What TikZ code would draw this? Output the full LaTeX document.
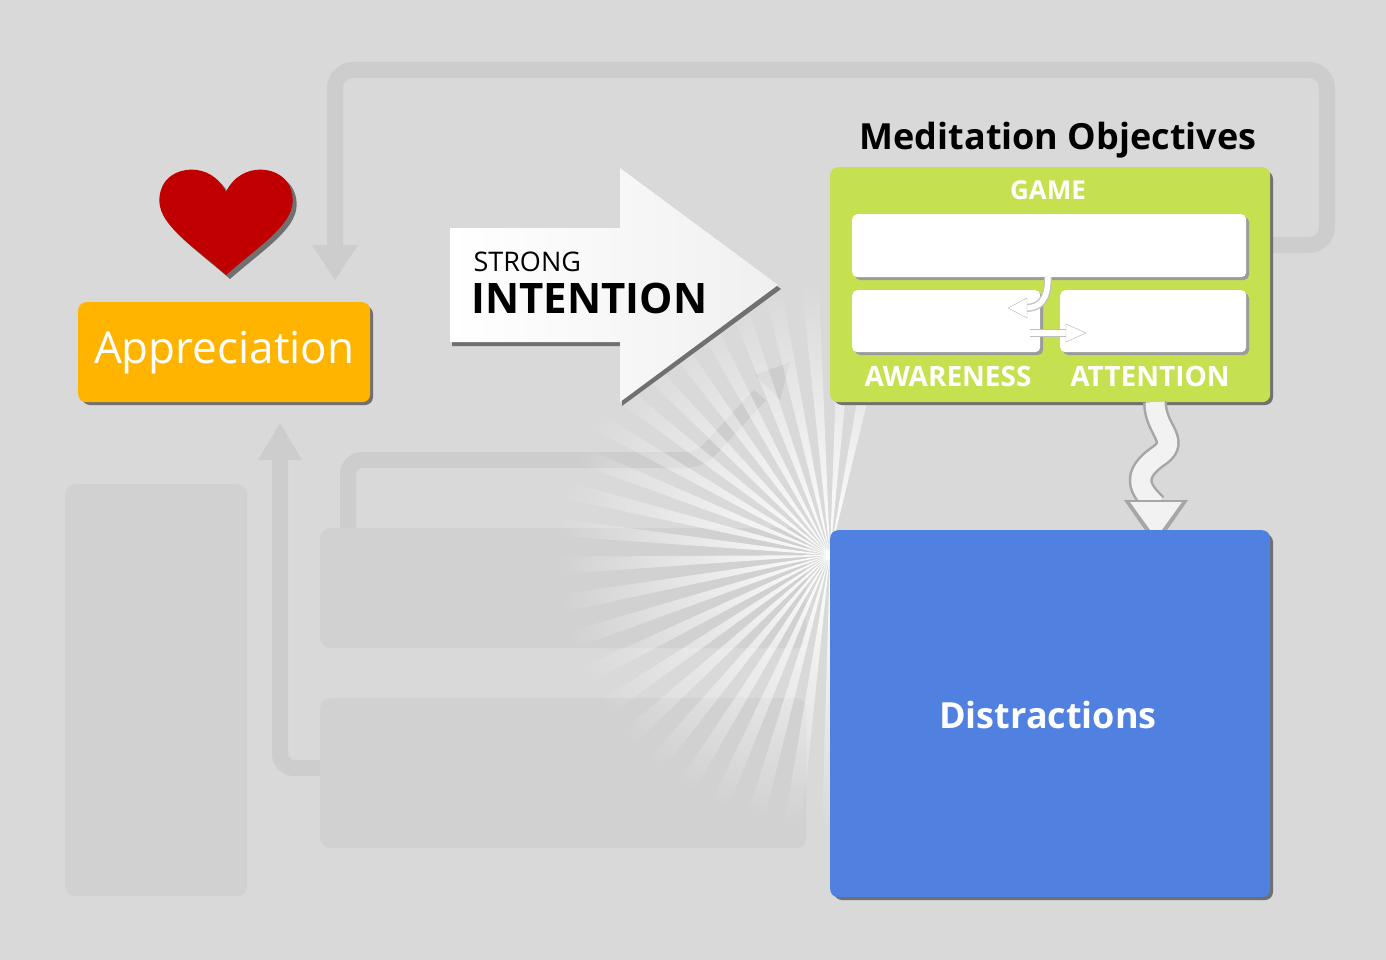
\documentclass[tikz,border=0pt]{standalone}
\usepackage{fontspec}
\setmainfont{Open Sans}
\usetikzlibrary{fadings,decorations.pathmorphing}
\definecolor{bg}{HTML}{D9D9D9}
\definecolor{ghost}{HTML}{D1D1D1}
\definecolor{ghostline}{HTML}{CDCDCD}
\definecolor{orng}{HTML}{FFB400}
\definecolor{grn}{HTML}{C5E150}
\definecolor{blu}{HTML}{5080E0}
\definecolor{hrt}{HTML}{C00000}
\definecolor{shd}{HTML}{707070}
\tikzfading[name=rayfade, inner color=transparent!0, outer color=transparent!100]
\begin{document}
\begin{tikzpicture}[x=1pt,y=-1pt,
  ghostbox/.style={fill=ghost,rounded corners=10pt},
  ghostarrow/.style={draw=ghostline,line width=16pt,rounded corners=18pt},
  whitebox/.style={fill=white,rounded corners=5pt},
  lbl/.style={text=white,font=\fontsize{28}{30}\selectfont\bfseries}]
\fill[bg] (0,0) rectangle (1386,960);
\useasboundingbox (0,0) rectangle (1386,960);
% ghost shapes
\node[ghostbox,minimum width=182pt,minimum height=412pt,anchor=north west] (gl) at (65,484) {};
\draw[ghostarrow] (335,250) |- (1327,70) |- (1270,245);
\fill[ghostline] (312,245) -- (358,245) -- (335,280) -- cycle;
\draw[ghostarrow,rounded corners=14pt] (348,528) |- (700,460) -- (760,395);
\fill[ghostline] (755,375) -- (790,362) -- (780,400) -- cycle;
\node[ghostbox,minimum width=486pt,minimum height=120pt,anchor=north west] (gm) at (320,528) {};
\node[ghostbox,minimum width=486pt,minimum height=150pt,anchor=north west] (gb) at (320,698) {};
\draw[ghostarrow,rounded corners=14pt] (320,768) -| (280,455);
\fill[ghostline] (258,460) -- (302,460) -- (280,423) -- cycle;
% rays
\begin{scope}
\path[fill=white,path fading=rayfade,fit fading=false,fading transform={shift={(830,555)},scale=11}]
 \foreach \a in {80,88,...,280} { (830,555) -- ++(\a:500) -- ++(\a+92:32) -- cycle };
\end{scope}
% heart
\begin{scope}[shift={(226,220)}]
\fill[shd,shift={(4,4)}] (0,55) .. controls (-40,20) and (-75,0) .. (-65,-30) .. controls (-58,-55) and (-15,-60) .. (0,-28) .. controls (15,-60) and (58,-55) .. (65,-30) .. controls (75,0) and (40,20) .. (0,55);
\fill[hrt] (0,55) .. controls (-40,20) and (-75,0) .. (-65,-30) .. controls (-58,-55) and (-15,-60) .. (0,-28) .. controls (15,-60) and (58,-55) .. (65,-30) .. controls (75,0) and (40,20) .. (0,55);
\end{scope}
% appreciation
\fill[shd,rounded corners=8pt] (82,306) rectangle (373,405);
\node[fill=orng,rounded corners=8pt,minimum width=292pt,minimum height=100pt,anchor=north west] (app) at (78,302) {};
\node[text=white,font=\fontsize{44}{46}\selectfont] at (app.center) {Appreciation};
% big arrow
\fill[shd] (452,232) -- (622,232) -- (622,172) -- (781,289) -- (622,406) -- (622,346) -- (452,346) -- cycle;
\shade[left color=white,right color=white!94!black] (450,228) -- (620,228) -- (620,168) -- (778,285) -- (620,402) -- (620,342) -- (450,342) -- cycle;
\node[anchor=west,font=\fontsize{27}{28}\selectfont] (strong) at (470,262) {STRONG};
\node[anchor=west,font=\fontsize{42}{44}\selectfont\bfseries] (intent) at (468,298) {INTENTION};
% green box
\node[font=\fontsize{36}{38}\selectfont\bfseries] (title) at (1058,140) {Meditation Objectives};
\fill[shd,rounded corners=8pt] (834,171) rectangle (1273,405);
\node[fill=grn,rounded corners=8pt,minimum width=440pt,minimum height=235pt,anchor=north west] (obj) at (830,167) {};
\node[lbl,font=\fontsize{26}{29}\selectfont\bfseries] (game) at (1048,190) {GAME};
\fill[shd!70,rounded corners=5pt] (855,217) rectangle (1249,280);
\node[whitebox,minimum width=394pt,minimum height=63pt,anchor=north west] (top) at (852,214) {};
\fill[shd!70,rounded corners=5pt] (855,293) rectangle (1043,355);
\node[whitebox,minimum width=188pt,minimum height=62pt,anchor=north west] (aw) at (852,290) {};
\fill[shd!70,rounded corners=5pt] (1063,293) rectangle (1249,355);
\node[whitebox,minimum width=186pt,minimum height=62pt,anchor=north west] (at) at (1060,290) {};
\node[lbl] (awl) at (948,376) {AWARENESS};
\node[lbl] (atl) at (1150,376) {ATTENTION};
% small arrows
\coordinate (c1) at (1048,277);
\draw[gray!50,line width=8pt] (c1) .. controls (1048,300) and (1040,308) .. (1025,308);
\draw[white,line width=5.5pt] (c1) .. controls (1048,300) and (1040,308) .. (1025,308);
\filldraw[fill=white,draw=gray!60] (1027,298) -- (1008,308) -- (1027,318) -- cycle;
\draw[gray!50,line width=8pt] (1030,333) -- (1068,333);
\draw[white,line width=5.5pt] (1030,333) -- (1068,333);
\filldraw[fill=white,draw=gray!60] (1066,324) -- (1086,333) -- (1066,342) -- cycle;
% wavy arrow
\coordinate (w0) at (1155,402);
\draw[gray!70,line width=24pt] (w0) .. controls (1155,430) and (1180,440) .. (1160,455) .. controls (1130,475) and (1140,490) .. (1156,505);
\draw[white!90!gray,line width=19pt] (w0) .. controls (1155,430) and (1180,440) .. (1160,455) .. controls (1130,475) and (1140,490) .. (1156,505);
\fill[gray!70] (1124,500) -- (1188,500) -- (1156,546) -- cycle;
\fill[white!90!gray] (1130,502) -- (1182,502) -- (1156,538) -- cycle;
% distractions
\fill[shd,rounded corners=8pt] (834,534) rectangle (1273,900);
\node[fill=blu,rounded corners=8pt,minimum width=440pt,minimum height=367pt,anchor=north west] (dis) at (830,530) {};
\node[text=white,font=\fontsize{36}{38}\selectfont\bfseries] at (1048,715) {Distractions};
\end{tikzpicture}
\end{document}
